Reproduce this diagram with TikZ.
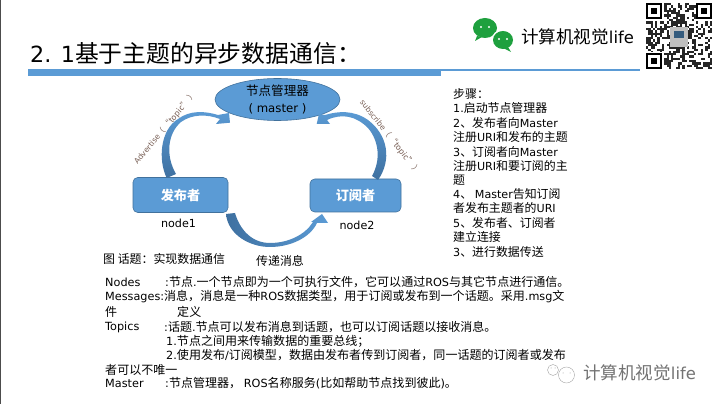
\documentclass[tikz,border=0pt]{standalone}
\usepackage{fontspec}
\setmainfont{DejaVu Sans}
\newfontfamily\cjk{Noto Sans CJK SC}[Scale=1.07]
\usetikzlibrary{shapes.geometric,positioning,calc}
\definecolor{slideblue}{RGB}{91,155,213}
\definecolor{edgeblue}{RGB}{65,113,156}
\definecolor{darkblue}{RGB}{62,112,160}
\definecolor{wechatgreen}{RGB}{30,160,62}
\definecolor{labelbrown}{RGB}{120,95,85}
\newcommand{\cn}[1]{{\cjk #1}}
\tikzset{
    bodytext/.style={anchor=west, inner sep=0pt, font=\fontsize{9.5}{11}\selectfont},
    deftext/.style={anchor=west, inner sep=0pt, font=\fontsize{9.6}{11}\selectfont},
    boxnode/.style={draw=edgeblue, fill=slideblue, rounded corners=4pt, line width=0.5pt, text=white,
        font=\fontsize{10.5}{12}\selectfont\bfseries, inner sep=0pt},
    curvelabel/.style={text=labelbrown, inner sep=0pt, font=\fontsize{6.5}{8}\selectfont},
}
\begin{document}
\begin{tikzpicture}[x=0.03cm, y=-0.03cm]
    \useasboundingbox (0,0) rectangle (721,404);
    \fill[white] (0,0) rectangle (721,404);
    \draw[black!70, line width=0.8pt] (0.4,0) -- (0.4,404);

    % Title and rule
    \node[anchor=west, inner sep=0pt, font=\fontsize{19}{22}\selectfont] (title) at (30,53) {2. 1\cn{基于主题的异步数据通信：}};
    \fill[slideblue] (28,69) rectangle (441,76);
    \fill[slideblue] (441,69) rectangle (640,71);

    % Logo
    \fill[wechatgreen] (485,28) ellipse (12 and 10);
    \fill[wechatgreen] (477,36) -- (475,41) -- (482,37) -- cycle;
    \fill[white] (503,40) ellipse (11.5 and 10.5);
    \fill[wechatgreen] (503,40) ellipse (10 and 9);
    \fill[wechatgreen] (508,47) -- (511,52) -- (503,48) -- cycle;
    \foreach \x/\y in {481/27, 489/27, 499/39, 507/39} {
        \fill[white] (\x,\y) circle (1.2);
    }
    \node[anchor=west, inner sep=0pt, font=\fontsize{14}{16}\selectfont] (logo) at (521,37) {\cn{计算机视觉}life};

    % QR code
    \pgfmathsetseed{2718}
    \foreach \i in {0,...,28} {
        \foreach \j in {0,...,28} {
            \pgfmathsetmacro{\val}{rnd}
            \ifdim\val pt<0.5pt
                \fill[black!85] (646+\i*2.28,3+\j*2.28) rectangle ++(2.28,2.28);
            \fi
        }
    }
    \foreach \x/\y in {646/3, 696/3, 646/53} {
        \fill[white] (\x-0.5,\y-0.5) rectangle ++(18.5,18.5);
        \fill[black] (\x,\y) rectangle ++(16,16);
        \fill[white] (\x+2.3,\y+2.3) rectangle ++(11.4,11.4);
        \fill[black] (\x+4.6,\y+4.6) rectangle ++(6.8,6.8);
    }
    \fill[black!25] (670,27) rectangle (688,47);
    \fill[edgeblue!80!black] (674,31) rectangle (684,38);

    % Nodes
    \node[draw=edgeblue, fill=slideblue, ellipse, minimum width=125*0.03cm, minimum height=42*0.03cm, inner sep=0pt,
        line width=0.5pt, align=center, font=\fontsize{10}{15}\selectfont] (master) at (277.5,99.5)
        {\cn{节点管理器}\\( master )};
    \node[boxnode, minimum width=95*0.03cm, minimum height=35*0.03cm] (pub) at (180.5,195) {\cn{\bfseries 发布者}};
    \node[boxnode, minimum width=91*0.03cm, minimum height=33*0.03cm] (sub) at (355.5,195.5) {\cn{\bfseries 订阅者}};
    \node[font=\fontsize{9.5}{11}\selectfont, inner sep=0pt] (nodeone) at (178.5,223) {node1};
    \node[font=\fontsize{9.5}{11}\selectfont, inner sep=0pt] (nodetwo) at (357,225) {node2};

    % Curved arrows
    \path[shade, top color=slideblue, bottom color=darkblue, draw=none]
        (166.7,178) .. controls (158,160) and (160,130) .. (178,119)
        .. controls (190,110) and (205,111) .. (218,115)
        -- (229,113) -- (230,122.7) -- (216,124) -- (220,119)
        .. controls (207,114) and (192,114) .. (181,122)
        .. controls (168,133) and (165,155) .. (176,174) -- cycle;
    \path[shade, top color=slideblue, bottom color=darkblue, draw=none]
        (378,180) .. controls (392,160) and (388,135) .. (368,120)
        .. controls (354,110) and (338,111) .. (325,115)
        -- (319,114) -- (316.7,124) -- (330,124) -- (327,120)
        .. controls (342,113) and (356,116) .. (368,128)
        .. controls (379,141) and (381,160) .. (372,176) -- cycle;
    \path[shade, left color=darkblue, right color=slideblue, draw=none]
        (226,214) .. controls (228,235) and (250,247) .. (270,247)
        .. controls (290,247) and (310,238) .. (317,223)
        -- (328,223) -- (322,214) -- (311,222) -- (313,222)
        .. controls (305,235) and (288,243) .. (270,243)
        .. controls (252,243) and (240,230) .. (235,213) -- cycle;

    % Curve labels
    \node[curvelabel, rotate=50] (advlabel) at (165,128) {Advertise\cn{（ “topic” ）}};
    \node[curvelabel, rotate=-52] (sublabel) at (390,137) {subscribe\cn{（ “topic” ）}};

    % Captions
    \node[bodytext] (caption) at (103,259) {\cn{图 话题：实现数据通信}};
    \node[font=\fontsize{9.5}{11}\selectfont, inner sep=0pt] (passing) at (280,261) {\cn{传递消息}};

    % Steps
    \foreach \y/\n/\t in {
        94/a/{\cn{步骤：}},
        108/b/{1.\cn{启动节点管理器}},
        123/c/{2\cn{、发布者向}Master},
        137/d/{\cn{注册}URI\cn{和发布的主题}},
        152/e/{3\cn{、订阅者向}Master},
        166/f/{\cn{注册}URI\cn{和要订阅的主}},
        180/g/{\cn{题}},
        194/h/{4\cn{、 }Master\cn{告知订阅}},
        208/i/{\cn{者发布主题者的}URI},
        223/j/{5\cn{、发布者、订阅者}},
        237/k/{\cn{建立连接}},
        252/l/{3\cn{、进行数据传送}}} {
        \node[bodytext] (step\n) at (453,\y) {\t};
    }

    % Definitions
    \foreach \x/\y/\n/\t in {
        105/282/a/{Nodes},
        165/282/b/{:\cn{节点}.\cn{一个节点即为一个可执行文件，它可以通过}ROS\cn{与其它节点进行通信。}},
        105/297/c/{Messages:\cn{消息，消息是一种}ROS\cn{数据类型，用于订阅或发布到一个话题。采用}.msg\cn{文}},
        105/312/d/{\cn{件}},
        177/312/e/{\cn{定义}},
        105/327/f/{Topics},
        164/327/g/{:\cn{话题}.\cn{节点可以发布消息到话题，也可以订阅话题以接收消息。}},
        166/341/h/{1.\cn{节点之间用来传输数据的重要总线；}},
        166/355/i/{2.\cn{使用发布}/\cn{订阅模型，数据由发布者传到订阅者，同一话题的订阅者或发布}},
        105/370/j/{\cn{者可以不唯一}},
        105/383/k/{Master},
        165/383/l/{:\cn{节点管理器， }ROS\cn{名称服务}(\cn{比如帮助节点找到彼此})\cn{。}}} {
        \node[deftext] (def\n) at (\x,\y) {\t};
    }

    % Watermark
    \draw[black!40, line width=0.3pt, fill=white] (553,370) circle (5.5);
    \draw[black!40, line width=0.3pt, fill=white] (566.5,375) circle (8);
    \foreach \x/\y in {551/368, 555/368, 563/373, 570/373} {
        \fill[black!40] (\x,\y) circle (0.5);
    }
    \node[anchor=west, inner sep=0pt, text=black!55, font=\fontsize{14}{16}\selectfont] (mark) at (583,373) {\cn{计算机视觉}life};
\end{tikzpicture}
\end{document}
